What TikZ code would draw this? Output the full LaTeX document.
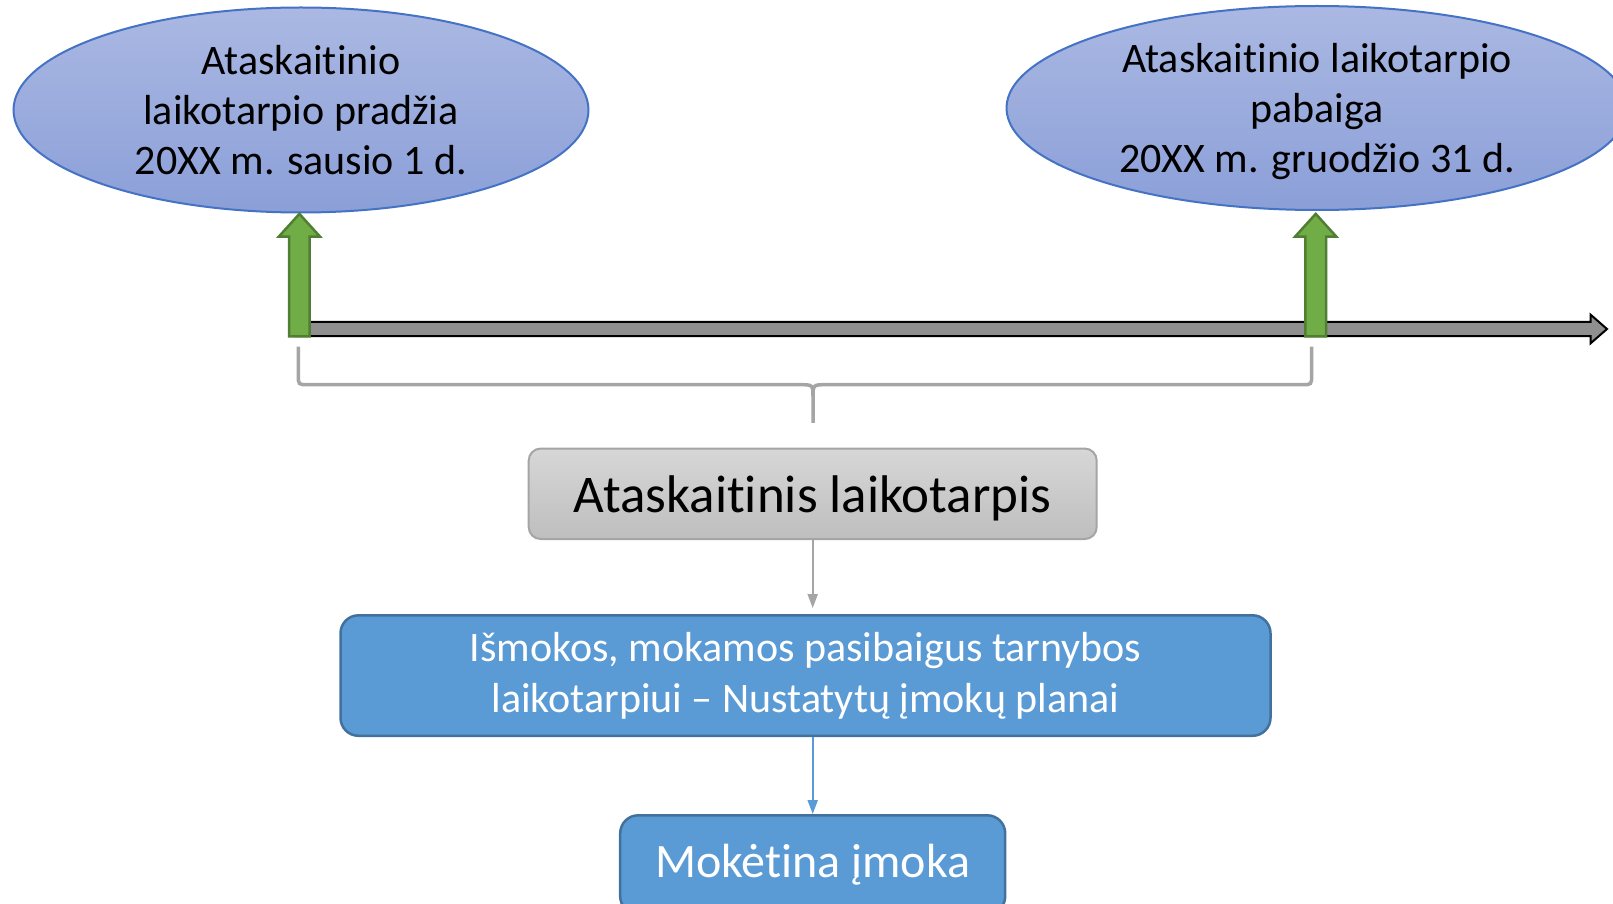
\documentclass[tikz,border=0pt]{standalone}
\usepackage{fontspec}
\setmainfont{Carlito}[RawFeature={-liga;-clig;-calt;-rlig;-dlig}]
\usetikzlibrary{shapes.geometric, arrows.meta, positioning}
\definecolor{ovaltop}{RGB}{170,184,226}
\definecolor{ovalbottom}{RGB}{139,159,216}
\definecolor{ovalline}{RGB}{68,114,196}
\definecolor{arrowgreen}{RGB}{112,173,71}
\definecolor{arrowgreenline}{RGB}{80,126,50}
\definecolor{linegray}{RGB}{165,165,165}
\definecolor{boxtop}{RGB}{215,215,215}
\definecolor{boxbottom}{RGB}{190,190,190}
\definecolor{boxblue}{RGB}{91,155,213}
\definecolor{boxblueline}{RGB}{65,113,156}

\begin{document}
\begin{tikzpicture}[x=1pt, y=-1pt]
\tikzstyle{oval} = [ellipse, draw=ovalline, line width=2pt, top color=ovaltop, bottom color=ovalbottom, align=center, inner sep=0pt, font=\fontsize{42}{50}\selectfont]
\tikzstyle{uparrow} = [draw=arrowgreenline, line width=2.5pt, fill=arrowgreen, line join=miter]
\tikzstyle{timeline} = [draw=black, line width=2pt, fill={rgb,255:red,143;green,143;blue,143}, line join=miter]
\tikzstyle{bracket} = [draw=linegray, line width=3.5pt]
\tikzstyle{graybox} = [rectangle, rounded corners=12pt, draw=linegray, line width=2pt, top color=boxtop, bottom color=boxbottom, text centered, text depth=0pt, font=\fontsize{53}{64}\selectfont]
\tikzstyle{bluebox} = [rectangle, rounded corners=18pt, draw=boxblueline, line width=2.5pt, fill=boxblue, text=white, align=center, inner sep=4pt, font=\fontsize{42}{51}\selectfont]
\tikzstyle{grayarrow} = [draw=linegray, line width=2pt, -{Triangle[width=10pt,length=14pt]}]
\tikzstyle{bluearrow} = [draw=boxblue, line width=2pt, -{Triangle[width=10pt,length=14pt]}]
\clip (0,0) rectangle (1613,904);

% Nodes
\node (start) [oval, minimum width=575pt, minimum height=205pt] at (301,110) {Ataskaitinio\\laikotarpio pradžia\\20XX m. sausio 1 d.};
\node (end) [oval, minimum width=621pt, minimum height=204pt] at (1317,108) {Ataskaitinio laikotarpio\\pabaiga\\\smash{20XX m. gruodžio 31 d.}};

\node (period) [graybox, minimum width=568pt, minimum height=90.5pt] at (812.7,493.8) {Ataskaitinis laikotarpis};
\node (plans) [bluebox, below=74pt of period, xshift=-7.2pt, minimum width=930pt, minimum height=120.5pt] {Išmokos, mokamos pasibaigus tarnybos\\laikotarpiui – Nustatytų įmokų planai};
\node (pay) [bluebox, below=77pt of plans, xshift=7.2pt, minimum width=385pt, minimum height=99pt, font=\fontsize{48}{58}\selectfont] {Mokėtina įmoka};

% Time line
\coordinate (t1) at (299.4,336.3);
\coordinate (t2) at (1315.7,336.3);
\coordinate (tend) at (1607,329);
\path [timeline] (295,321.8) -- (1590.5,321.8) -- (1590.5,314.6) -- (tend) -- (1590.5,343.4) -- (1590.5,336.2) -- (295,336.2) -- cycle;
\path [uparrow] (t1) +(-10.3,0) -- +(-10.3,-99.8) -- +(-20.5,-99.8) -- +(0,-122.4) -- +(20.5,-99.8) -- +(10.3,-99.8) -- +(10.3,0) -- cycle;
\path [uparrow] (t2) +(-10.3,0) -- +(-10.3,-99.8) -- +(-20.5,-99.8) -- +(0,-122.4) -- +(20.5,-99.8) -- +(10.3,-99.8) -- +(10.3,0) -- cycle;

% Brace
\draw [bracket] (298.3,346.7) -- (298.3,375) .. controls (298.3,384.7) .. (308,384.7) -- (800,384.7) .. controls (813,384.7) .. (813,398) -- (813,422.8)
  (1311.6,346.7) -- (1311.6,375) .. controls (1311.6,384.7) .. (1302,384.7) -- (826,384.7) .. controls (813,384.7) .. (813,398);

% Arrows
\draw [grayarrow, shorten >=6pt] (period.south) -- (period.south |- plans.north);
\draw [bluearrow] (plans.south -| pay.north) -- (pay.north);

\end{tikzpicture}
\end{document}
